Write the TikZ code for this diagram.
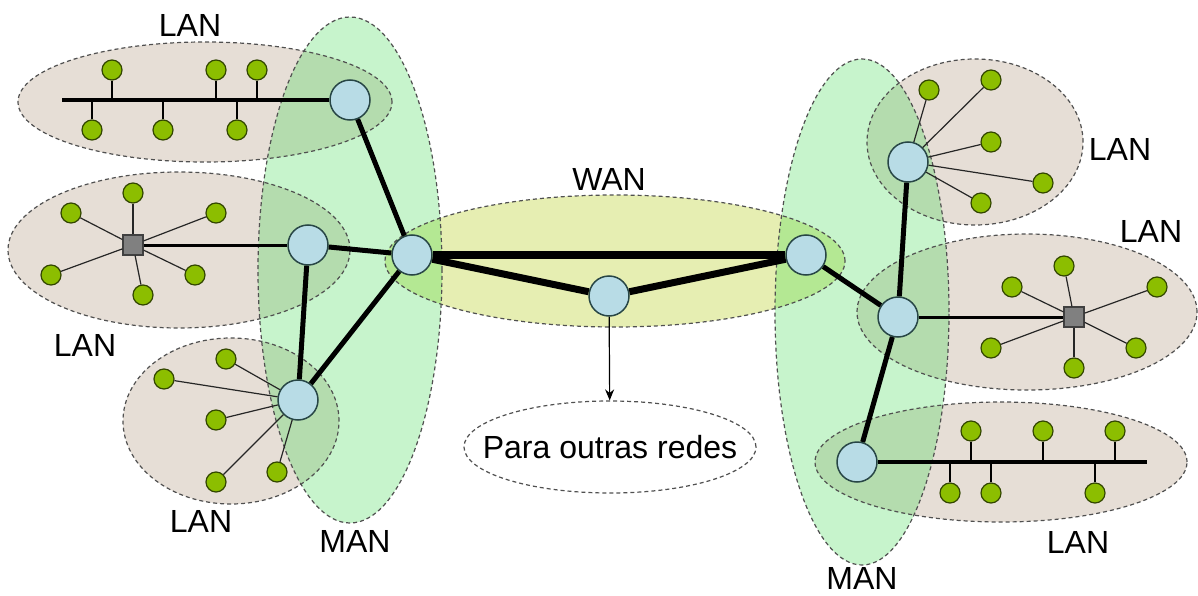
\documentclass[tikz,border=0pt]{standalone}
\usepackage{fontspec}
\setmainfont{Liberation Sans}
\usetikzlibrary{shapes.geometric,arrows.meta}
\definecolor{lanc}{RGB}{230,222,214}
\definecolor{manc}{RGB}{40,215,60}
\definecolor{wanc}{RGB}{230,238,178}
\definecolor{routerc}{RGB}{184,220,230}
\definecolor{routerb}{RGB}{40,70,70}
\definecolor{hostc}{RGB}{140,190,0}
\definecolor{hostb}{RGB}{50,70,0}
\definecolor{swc}{RGB}{128,128,128}
\definecolor{dashc}{RGB}{80,80,80}
\tikzset{
  region/.style={draw=dashc, line width=1.2pt, dash pattern=on 4pt off 3pt},
  lanfill/.style={fill=lanc},
  wanfill/.style={fill=wanc},
  manfill/.style={fill=manc, fill opacity=0.26},
  router/.style={circle, draw=routerb, fill=routerc, line width=1.5pt, minimum size=40pt, inner sep=0pt},
  host/.style={circle, draw=hostb, fill=hostc, line width=1.2pt, minimum size=20pt, inner sep=0pt},
  switchbox/.style={rectangle, draw=black!75, fill=swc, line width=1.2pt, minimum size=20pt, inner sep=0pt},
  manlink/.style={line width=5pt},
  wanlink/.style={line width=7.5pt},
  buslink/.style={line width=3.5pt},
  stem/.style={line width=1.5pt},
  spoke/.style={line width=1.2pt, draw=black!85},
  lbl/.style={font=\fontsize{32}{36}\selectfont, inner sep=0pt},
}
\begin{document}
\begin{tikzpicture}[x=1pt,y=-1pt]
\useasboundingbox (0,0) rectangle (1198,596);
\fill[white] (0,0) rectangle (1198,596);
% region fills
\fill[wanfill] (615,261) ellipse [x radius=230pt, y radius=66pt];
\fill[lanfill] (205,102) ellipse [x radius=187pt, y radius=60pt];
\fill[lanfill] (179,250) ellipse [x radius=171pt, y radius=78pt];
\fill[lanfill] (231,421) ellipse [x radius=108pt, y radius=83pt];
\fill[lanfill] (975,142) ellipse [x radius=108pt, y radius=83pt];
\fill[lanfill] (1027,312) ellipse [x radius=170pt, y radius=78pt];
\fill[lanfill] (1001,462) ellipse [x radius=186pt, y radius=60pt];
\fill[manfill] (350,270) ellipse [x radius=92pt, y radius=253pt];
\fill[manfill] (862,312) ellipse [x radius=87pt, y radius=253pt];
% region borders
\draw[region] (615,261) ellipse [x radius=230pt, y radius=66pt];
\draw[region] (205,102) ellipse [x radius=187pt, y radius=60pt];
\draw[region] (179,250) ellipse [x radius=171pt, y radius=78pt];
\draw[region] (231,421) ellipse [x radius=108pt, y radius=83pt];
\draw[region] (975,142) ellipse [x radius=108pt, y radius=83pt];
\draw[region] (1027,312) ellipse [x radius=170pt, y radius=78pt];
\draw[region] (1001,462) ellipse [x radius=186pt, y radius=60pt];
\draw[region] (350,270) ellipse [x radius=92pt, y radius=253pt];
\draw[region] (862,312) ellipse [x radius=87pt, y radius=253pt];
% labels
\node[lbl] (tl1) at (190,25) {LAN};
\node[lbl] (tl2) at (85,345) {LAN};
\node[lbl] (tl3) at (201,521) {LAN};
\node[lbl] (tm1) at (355,541) {MAN};
\node[lbl] (tw) at (609,179) {WAN};
\node[lbl] (tl4) at (1120,149) {LAN};
\node[lbl] (tl5) at (1151,231) {LAN};
\node[lbl] (tl6) at (1078,542) {LAN};
\node[lbl] (tm2) at (862,578) {MAN};
\node[ellipse, region, fill=white, inner xsep=-40pt, inner ysep=0pt, minimum width=292pt, minimum height=92pt, font=\fontsize{32}{36}\selectfont] (para) at (610,447) {Para outras redes};
% routers
\node[router] (r1) at (350,100) {};
\node[router] (r2) at (308,245) {};
\node[router] (r3) at (298,400) {};
\node[router] (wl) at (412,255) {};
\node[router] (wc) at (609,296) {};
\node[router] (wr) at (806,255) {};
\node[router] (r4) at (908,162) {};
\node[router] (r5) at (898,317) {};
\node[router] (r6) at (857,462) {};
\node[switchbox] (sw1) at (133,245) {};
\node[switchbox] (sw2) at (1074,317) {};
% LAN1 (bus)
\coordinate (bus1) at (62,100);
\foreach \n/\p in {a1/{(112,70)},a2/{(216,70)},a3/{(257,70)},a4/{(92,130)},a5/{(163,130)},a6/{(237,130)}}
  \node[host] (\n) at \p {};
\draw[buslink] (bus1) -- (r1);
\foreach \n in {a1,a2,a3,a4,a5,a6} \draw[stem] (\n) -- (\n |- r1);
% LAN2 (star)
\foreach \n/\p in {b1/{(71,213)},b2/{(133,193)},b3/{(216,213)},b4/{(51,275)},b5/{(195,275)},b6/{(143,295)}}
  \node[host] (\n) at \p {};
\foreach \n in {b1,b2,b3,b4,b5,b6} \draw[spoke] (sw1) -- (\n);
\draw[line width=3pt] (sw1) -- (r2);
% LAN3
\foreach \n/\p in {c1/{(226,359)},c2/{(164,379)},c3/{(216,420)},c4/{(216,482)},c5/{(277,472)}}
  \node[host] (\n) at \p {};
\foreach \n in {c1,c2,c3,c4,c5} \draw[spoke] (r3) -- (\n);
% LAN4
\foreach \n/\p in {d1/{(929,90)},d2/{(991,80)},d3/{(991,142)},d4/{(1043,183)},d5/{(981,203)}}
  \node[host] (\n) at \p {};
\foreach \n in {d1,d2,d3,d4,d5} \draw[spoke] (r4) -- (\n);
% LAN5 (star)
\foreach \n/\p in {e1/{(1012,287)},e2/{(1064,266)},e3/{(1157,287)},e4/{(991,348)},e5/{(1074,368)},e6/{(1136,348)}}
  \node[host] (\n) at \p {};
\foreach \n in {e1,e2,e3,e4,e5,e6} \draw[spoke] (sw2) -- (\n);
\draw[line width=3pt] (r5) -- (sw2);
% LAN6 (bus)
\coordinate (bus6) at (1147,462);
\foreach \n/\p in {f1/{(971,431)},f2/{(1043,431)},f3/{(1115,431)},f4/{(950,493)},f5/{(991,493)},f6/{(1095,493)}}
  \node[host] (\n) at \p {};
\draw[buslink] (r6) -- (bus6);
\foreach \n in {f1,f2,f3,f4,f5,f6} \draw[stem] (\n) -- (\n |- r6);
% MAN links
\draw[manlink] (r1) -- (wl);
\draw[manlink] (r2) -- (wl);
\draw[manlink] (r2) -- (r3);
\draw[manlink] (r3) -- (wl);
\draw[manlink] (wr) -- (r5);
\draw[manlink] (r5) -- (r4);
\draw[manlink] (r5) -- (r6);
% WAN links
\draw[wanlink] (wl) -- (wr);
\draw[line width=7pt] (wl) -- (wc);
\draw[line width=7pt] (wc) -- (wr);
\draw[line width=1.2pt, -{Stealth[length=11pt,width=9pt]}] (wc) -- (para);
\end{tikzpicture}
\end{document}
